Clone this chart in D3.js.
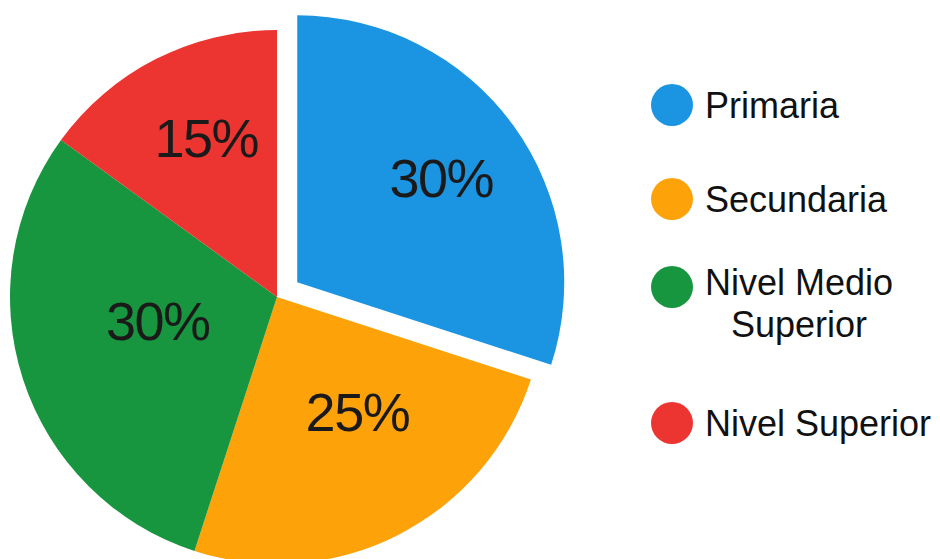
<!DOCTYPE html>
<html>
<head>
<meta charset="utf-8">
<script src="https://cdn.jsdelivr.net/npm/d3@7"></script>
<style>
  html, body { margin: 0; padding: 0; background: #ffffff; }
  svg { display: block; }
</style>
</head>
<body>
<svg id="chart" width="940" height="559"></svg>
<script>
// Nivel educativo: distribución porcentual
const categories = ["Primaria", "Secundaria", "Nivel Medio Superior", "Nivel Superior"];
const values = [30, 25, 30, 15];
const legendLines = [["Primaria"], ["Secundaria"], ["Nivel Medio", "Superior"], ["Nivel Superior"]];
const colors = ["#1b95e2", "#fea20a", "#18963f", "#ec3431"];

const width = 940, height = 559;
const cx = 277, cy = 297, radius = 267;
const explodeIndex = 0, explodeDist = 25;

// label placement: [angle offset from slice middle (deg), distance as share of radius]
const labelPlacement = [[0, 0.667], [-8, 0.525], [7, 0.455], [3, 0.652]];

const svg = d3.select("#chart");

const pie = d3.pie().sort(null).value(d => d);
const arcs = pie(values);
const arc = d3.arc().innerRadius(0).outerRadius(radius);

const g = svg.append("g").attr("transform", `translate(${cx},${cy})`);

function offsetFor(i) {
  if (i !== explodeIndex) return [0, 0];
  const a = (arcs[i].startAngle + arcs[i].endAngle) / 2;
  return [Math.sin(a) * explodeDist, -Math.cos(a) * explodeDist];
}

const slices = g.selectAll("g.slice")
  .data(arcs)
  .join("g")
  .attr("class", "slice")
  .attr("transform", (d, i) => { const o = offsetFor(i); return `translate(${o[0]},${o[1]})`; });

slices.append("path")
  .attr("d", arc)
  .attr("fill", (d, i) => colors[i]);

slices.append("text")
  .attr("transform", (d, i) => {
    const [dAng, frac] = labelPlacement[i];
    const a = (d.startAngle + d.endAngle) / 2 + dAng * Math.PI / 180;
    const r = radius * frac;
    return `translate(${Math.sin(a) * r},${-Math.cos(a) * r})`;
  })
  .attr("text-anchor", "middle")
  .attr("dy", "0.36em")
  .attr("font-family", "'Liberation Sans', Arial, sans-serif")
  .attr("font-size", 54)
  .attr("letter-spacing", -1.5)
  .attr("fill", "#1a1a1a")
  .text(d => d.value + "%");

// Legend
const legendX = 672, textX = 705;
const legendY = [105, 199, 287, 423];
const legend = svg.append("g");

categories.forEach((c, i) => {
  const item = legend.append("g");
  item.append("circle")
    .attr("cx", legendX).attr("cy", legendY[i]).attr("r", 21)
    .attr("fill", colors[i]);
  const lines = legendLines[i];
  const first = item.append("text")
    .attr("x", textX)
    .attr("y", legendY[i] + (lines.length > 1 ? 8 : 13))
    .attr("font-family", "'Liberation Sans', Arial, sans-serif")
    .attr("font-size", 36)
    .attr("fill", "#111")
    .text(lines[0]);
  if (lines.length > 1) {
    const w = first.node().getComputedTextLength();
    item.append("text")
      .attr("x", textX + w / 2)
      .attr("y", legendY[i] + 50)
      .attr("text-anchor", "middle")
      .attr("font-family", "'Liberation Sans', Arial, sans-serif")
      .attr("font-size", 36)
      .attr("fill", "#111")
      .text(lines[1]);
  }
});
</script>
</body>
</html>
